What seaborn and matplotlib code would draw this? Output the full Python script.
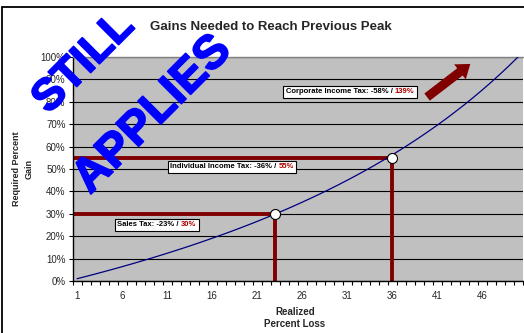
import matplotlib
matplotlib.use("Agg")
import matplotlib.pyplot as plt
from matplotlib.patches import Rectangle
from matplotlib.transforms import Bbox
import matplotlib.patheffects as pe
import numpy as np
import pandas as pd
import seaborn as sns

# Realized percent loss (category axis) and the gain required to recover it
loss = list(range(1, 51))
gain = [1.01, 2.04, 3.09, 4.17, 5.26, 6.38, 7.53, 8.70, 9.89, 11.11,
        12.36, 13.64, 14.94, 16.28, 17.65, 19.05, 20.48, 21.95, 23.46, 25.00,
        26.58, 28.21, 29.87, 31.58, 33.33, 35.14, 36.99, 38.89, 40.85, 42.86,
        44.93, 47.06, 49.25, 51.52, 53.85, 56.25, 58.73, 61.29, 63.93, 66.67,
        69.49, 72.41, 75.44, 78.57, 81.82, 85.19, 88.68, 92.31, 96.08, 100.00]

# Tax scenarios: loss taken and gain needed to get back
event_names = ["Sales Tax", "Individual Income Tax", "Corporate Income Tax"]
event_loss = [23, 36, 58]
event_gain = [30, 55, 139]
# where each callout box sits (loss, gain)
label_x = [5.45, 11.35, 24.2]
label_y = [25.2, 50.9, 84.4]

x_ticks = list(range(1, 51, 5))
y_ticks = list(range(0, 101, 10))
y_tick_labels = [f"{v}%" for v in y_ticks]

DARK_RED = "#800000"
LABEL_RED = "#B00000"

sns.set_style("ticks")
plt.rcParams["font.family"] = ["Liberation Sans", "DejaVu Sans"]

W, H = 524, 333
fig = plt.figure(figsize=(W / 100, H / 100), dpi=100)
fig.patch.set_facecolor("white")
ax = fig.add_axes([72.5 / W, (H - 281) / H, 450 / W, 224 / H])
ax.set_facecolor("#C0C0C0")

df = pd.DataFrame({"loss": loss, "gain": gain})
sns.lineplot(data=df, x="loss", y="gain", color="#000080", lw=0.9, ax=ax, zorder=3)

# drop lines from the visible scenarios to both axes
vis = [i for i in range(len(event_names)) if event_gain[i] <= 100]
for i in vis:
    ax.plot([0.5, event_loss[i]], [event_gain[i], event_gain[i]], color=DARK_RED,
            lw=2.8, solid_capstyle="butt", zorder=2)
    ax.plot([event_loss[i], event_loss[i]], [0, event_gain[i]], color=DARK_RED,
            lw=2.8, solid_capstyle="butt", zorder=2)
sns.scatterplot(x=[event_loss[i] for i in vis], y=[event_gain[i] for i in vis],
                s=52, color="white", edgecolor="black", linewidth=0.8, zorder=5, ax=ax)

# callout texts: black description, red required gain
callouts = []
for i in range(len(event_names)):
    head = f"{event_names[i]}: -{event_loss[i]}% / "
    tail = f"{event_gain[i]}%"
    t = ax.text(label_x[i], label_y[i], head, color="black", fontsize=5.5,
                fontweight="bold", ha="left", va="center", zorder=7)
    r = ax.annotate(tail, xy=(1, 0), xycoords=t, ha="left", va="bottom",
                    color=LABEL_RED, fontsize=5.5, fontweight="bold", zorder=7)
    callouts.append((t, r))

# upward arrow
ax.annotate("", xy=(44.7, 96.9), xytext=(39.9, 82.1),
            arrowprops=dict(arrowstyle="simple,head_length=9.4,head_width=13.7,tail_width=6.5",
                            mutation_scale=1, fc=DARK_RED, ec=DARK_RED, lw=0,
                            shrinkA=0, shrinkB=0), zorder=6)

ax.set_xlim(0.5, 50.5)
ax.set_ylim(0, 100)
ax.set_xticks(x_ticks)
ax.set_xticklabels([str(v) for v in x_ticks])
ax.set_xticks(np.arange(0.5, 51, 1), minor=True)
ax.tick_params(axis="x", which="major", length=0, labelsize=7, pad=7)
ax.tick_params(axis="x", which="minor", length=3, width=0.8, direction="out", color="black")
ax.set_yticks(y_ticks)
ax.set_yticklabels(y_tick_labels)
ax.tick_params(axis="y", length=3, width=0.8, labelsize=7, pad=2, color="black")
ax.grid(axis="y", color="black", lw=0.8)
ax.set_axisbelow(True)
ax.set_xlabel("")
ax.set_ylabel("")
for s in ["left", "bottom"]:
    ax.spines[s].set_color("black")
    ax.spines[s].set_linewidth(1.0)
ax.spines["top"].set_color("#808080")
ax.spines["top"].set_linewidth(1.0)
ax.spines["right"].set_visible(False)

fig.text(271 / W, 1 - 27 / H, "Gains Needed to Reach Previous Peak",
         ha="center", va="center", fontsize=9.5, fontweight="bold")
fig.text(23 / W, 1 - 169 / H, "Required Percent\nGain", rotation=90,
         ha="center", va="center", fontsize=6.5, fontweight="bold", linespacing=1.5)
fig.text(295 / W, 1 - 318 / H, "Realized\nPercent Loss", ha="center", va="center",
         fontsize=7, fontweight="bold", linespacing=1.35)

# white framed boxes behind each callout, sized to its text
fig.canvas.draw()
renderer = fig.canvas.get_renderer()
for t, r in callouts:
    bb = Bbox.union([t.get_window_extent(renderer), r.get_window_extent(renderer)])
    bb = bb.padded(2.5)
    ab = bb.transformed(ax.transAxes.inverted())
    ax.add_patch(Rectangle((ab.x0, ab.y0), ab.width, ab.height,
                           transform=ax.transAxes, fc="white", ec="black",
                           lw=0.8, zorder=6, clip_on=False))

# outer chart frame
fig.patches.append(Rectangle((1.5 / W, -0.1), 1.2, (H - 7) / H + 0.1,
                             transform=fig.transFigure, fill=False, ec="black", lw=1.3))

# stamp across the chart
for word, cx, cy, fs in [("STILL", 84, 63, 32), ("APPLIES", 153, 115, 34)]:
    fig.text(cx / W, 1 - cy / H, word, rotation=45, rotation_mode="anchor",
             ha="center", va="center", fontsize=fs, fontweight="bold",
             color="#0000FF", zorder=10,
             path_effects=[pe.withStroke(linewidth=1.2, foreground="#0000FF")])

fig.savefig("out.png", dpi=100)
